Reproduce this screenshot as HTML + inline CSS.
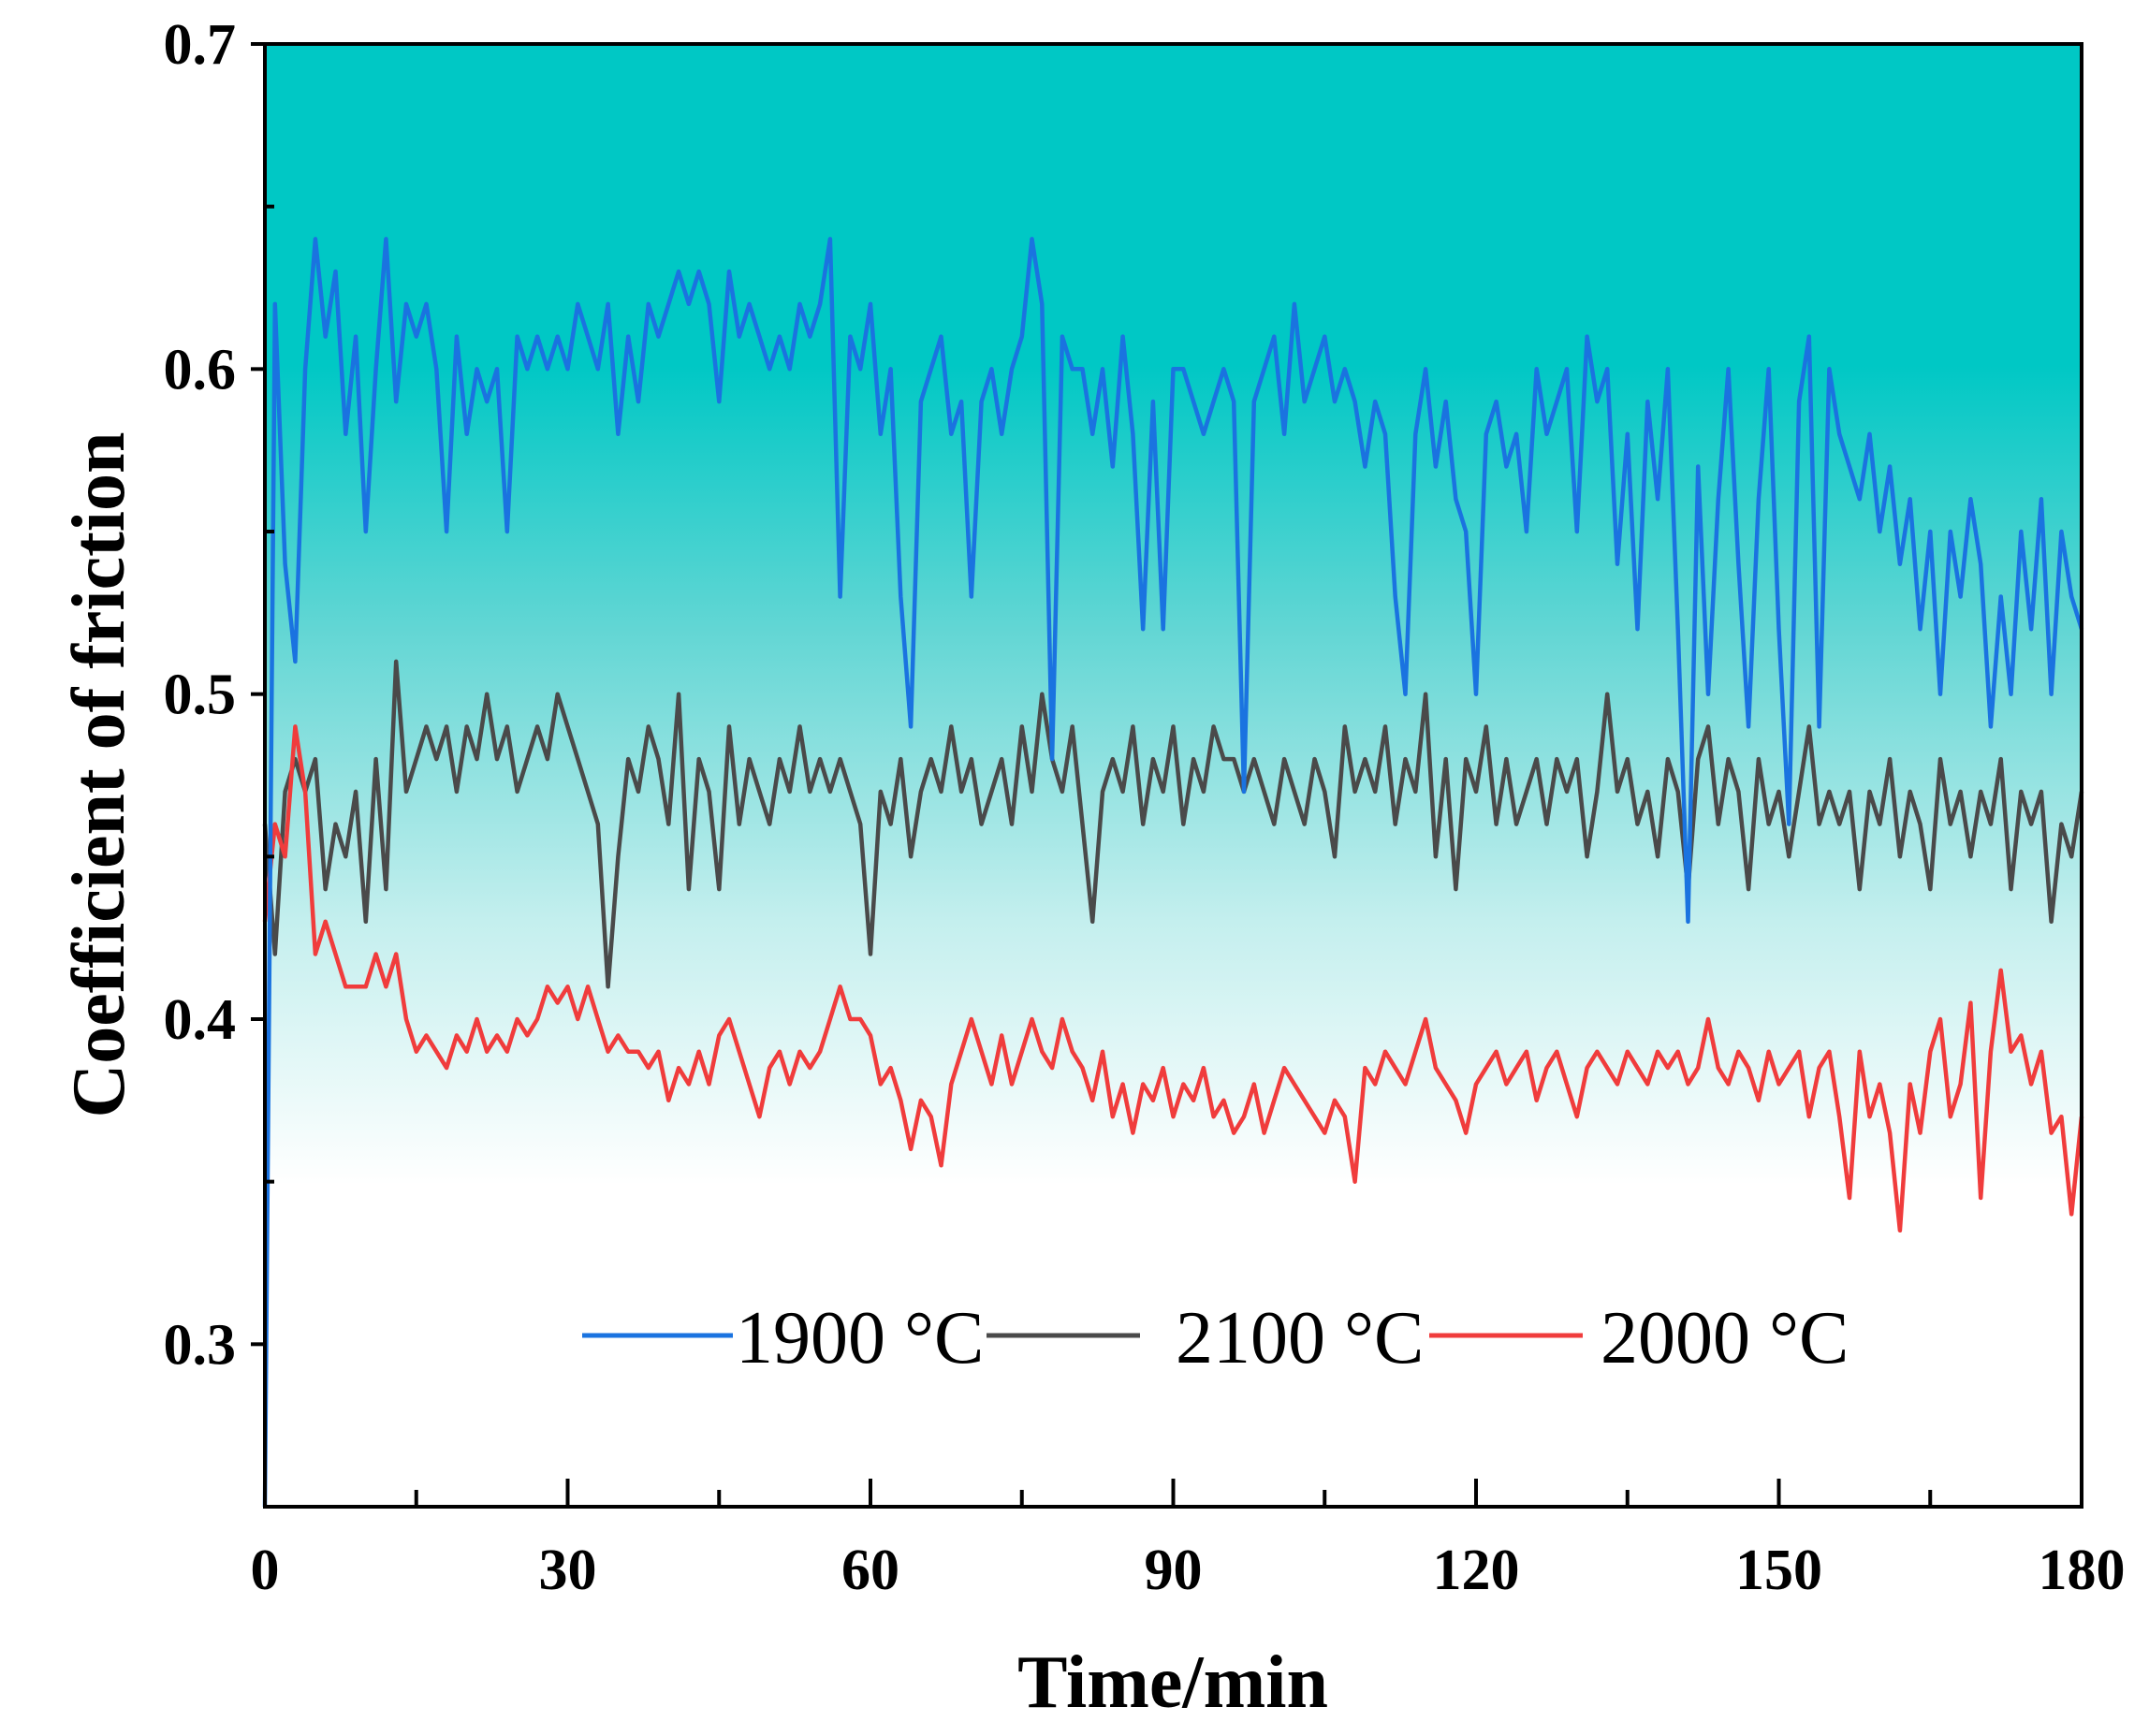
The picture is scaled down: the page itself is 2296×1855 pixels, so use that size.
<!DOCTYPE html>
<html><head><meta charset="utf-8"><style>
html,body{margin:0;padding:0;background:#fff}
svg{display:block}
</style></head><body>
<svg id="chart" width="2296" height="1855" viewBox="0 0 2296 1855" xmlns="http://www.w3.org/2000/svg" font-family="'Liberation Serif', serif">
<defs>
<linearGradient id="bg" x1="0" y1="0" x2="0" y2="1">
<stop offset="0" stop-color="#00c8c5"/>
<stop offset="0.22" stop-color="#00c8c5"/>
<stop offset="0.4" stop-color="#62d6d4"/>
<stop offset="0.6" stop-color="#c4efee"/>
<stop offset="0.78" stop-color="#ffffff"/>
<stop offset="1" stop-color="#ffffff"/>
</linearGradient>
</defs>
<rect x="283" y="47" width="1941" height="1563" fill="url(#bg)"/>
<g id="series"></g>
<g id="axes"></g>
<g font-size="80">
<line x1="622" y1="1427" x2="783" y2="1427" stroke="#1a73e0" stroke-width="5"/>
<text x="786" y="1456">1900 °C</text>
<line x1="1054" y1="1427" x2="1218" y2="1427" stroke="#4a4a4a" stroke-width="5"/>
<text x="1256" y="1456">2100 °C</text>
<line x1="1527" y1="1427" x2="1691" y2="1427" stroke="#f03c3c" stroke-width="5"/>
<text x="1710" y="1456">2000 °C</text>
</g>
<text x="1253" y="1824" font-size="80" font-weight="bold" text-anchor="middle">Time/min</text>
<text transform="translate(132,828) rotate(-90)" font-size="80" font-weight="bold" text-anchor="middle">Coefficient of friction</text>
</svg>
<script>
const xTicks=[0,30,60,90,120,150,180];
const yTicks=[0.3,0.4,0.5,0.6,0.7];
const blue=[0.25,0.62,0.54,0.51,0.60,0.64,0.61,0.63,0.58,0.61,0.55,0.60,0.64,0.59,0.62,0.61,0.62,0.60,0.55,0.61,0.58,0.60,0.59,0.60,0.55,0.61,0.60,0.61,0.60,0.61,0.60,0.62,0.61,0.60,0.62,0.58,0.61,0.59,0.62,0.61,0.62,0.63,0.62,0.63,0.62,0.59,0.63,0.61,0.62,0.61,0.60,0.61,0.60,0.62,0.61,0.62,0.64,0.53,0.61,0.60,0.62,0.58,0.60,0.53,0.49,0.59,0.60,0.61,0.58,0.59,0.53,0.59,0.60,0.58,0.60,0.61,0.64,0.62,0.48,0.61,0.60,0.60,0.58,0.60,0.57,0.61,0.58,0.52,0.59,0.52,0.60,0.60,0.59,0.58,0.59,0.60,0.59,0.47,0.59,0.60,0.61,0.58,0.62,0.59,0.60,0.61,0.59,0.60,0.59,0.57,0.59,0.58,0.53,0.50,0.58,0.60,0.57,0.59,0.56,0.55,0.50,0.58,0.59,0.57,0.58,0.55,0.60,0.58,0.59,0.60,0.55,0.61,0.59,0.60,0.54,0.58,0.52,0.59,0.56,0.60,0.52,0.43,0.57,0.50,0.56,0.60,0.54,0.49,0.56,0.60,0.52,0.46,0.59,0.61,0.49,0.60,0.58,0.57,0.56,0.58,0.55,0.57,0.54,0.56,0.52,0.55,0.50,0.55,0.53,0.56,0.54,0.49,0.53,0.50,0.55,0.52,0.56,0.50,0.55,0.53,0.52];
const gray=[0.46,0.42,0.47,0.48,0.47,0.48,0.44,0.46,0.45,0.47,0.43,0.48,0.44,0.51,0.47,0.48,0.49,0.48,0.49,0.47,0.49,0.48,0.50,0.48,0.49,0.47,0.48,0.49,0.48,0.50,0.49,0.48,0.47,0.46,0.41,0.45,0.48,0.47,0.49,0.48,0.46,0.50,0.44,0.48,0.47,0.44,0.49,0.46,0.48,0.47,0.46,0.48,0.47,0.49,0.47,0.48,0.47,0.48,0.47,0.46,0.42,0.47,0.46,0.48,0.45,0.47,0.48,0.47,0.49,0.47,0.48,0.46,0.47,0.48,0.46,0.49,0.47,0.50,0.48,0.47,0.49,0.46,0.43,0.47,0.48,0.47,0.49,0.46,0.48,0.47,0.49,0.46,0.48,0.47,0.49,0.48,0.48,0.47,0.48,0.47,0.46,0.48,0.47,0.46,0.48,0.47,0.45,0.49,0.47,0.48,0.47,0.49,0.46,0.48,0.47,0.50,0.45,0.48,0.44,0.48,0.47,0.49,0.46,0.48,0.46,0.47,0.48,0.46,0.48,0.47,0.48,0.45,0.47,0.50,0.47,0.48,0.46,0.47,0.45,0.48,0.47,0.44,0.48,0.49,0.46,0.48,0.47,0.44,0.48,0.46,0.47,0.45,0.47,0.49,0.46,0.47,0.46,0.47,0.44,0.47,0.46,0.48,0.45,0.47,0.46,0.44,0.48,0.46,0.47,0.45,0.47,0.46,0.48,0.44,0.47,0.46,0.47,0.43,0.46,0.45,0.47];
const red=[0.43,0.46,0.45,0.49,0.47,0.42,0.43,0.42,0.41,0.41,0.41,0.42,0.41,0.42,0.40,0.39,0.395,0.39,0.385,0.395,0.39,0.40,0.39,0.395,0.39,0.40,0.395,0.40,0.41,0.405,0.41,0.40,0.41,0.40,0.39,0.395,0.39,0.39,0.385,0.39,0.375,0.385,0.38,0.39,0.38,0.395,0.40,0.39,0.38,0.37,0.385,0.39,0.38,0.39,0.385,0.39,0.40,0.41,0.40,0.40,0.395,0.38,0.385,0.375,0.36,0.375,0.37,0.355,0.38,0.39,0.40,0.39,0.38,0.395,0.38,0.39,0.40,0.39,0.385,0.40,0.39,0.385,0.375,0.39,0.37,0.38,0.365,0.38,0.375,0.385,0.37,0.38,0.375,0.385,0.37,0.375,0.365,0.37,0.38,0.365,0.375,0.385,0.38,0.375,0.37,0.365,0.375,0.37,0.35,0.385,0.38,0.39,0.385,0.38,0.39,0.40,0.385,0.38,0.375,0.365,0.38,0.385,0.39,0.38,0.385,0.39,0.375,0.385,0.39,0.38,0.37,0.385,0.39,0.385,0.38,0.39,0.385,0.38,0.39,0.385,0.39,0.38,0.385,0.40,0.385,0.38,0.39,0.385,0.375,0.39,0.38,0.385,0.39,0.37,0.385,0.39,0.37,0.345,0.39,0.37,0.38,0.365,0.335,0.38,0.365,0.39,0.40,0.37,0.38,0.405,0.345,0.39,0.415,0.39,0.395,0.38,0.39,0.365,0.37,0.34,0.37];

const L=283,R=2224,T=47,B=1610,X0=0,X1=180,Y0=0.25,Y1=0.7;
const sx=v=>L+(v-X0)/(X1-X0)*(R-L);
const sy=v=>B-(v-Y0)/(Y1-Y0)*(B-T);
const NS='http://www.w3.org/2000/svg';
const sg=document.getElementById('series');
function draw(arr,color,name){
  const step=(X1-X0)/(arr.length-1);
  const d=arr.map((v,i)=>(i?'L':'M')+sx(X0+i*step).toFixed(1)+','+sy(v).toFixed(1)).join('');
  const p=document.createElementNS(NS,'path');
  p.setAttribute('d',d);p.setAttribute('fill','none');p.setAttribute('stroke',color);
  p.setAttribute('stroke-width','4.5');p.setAttribute('stroke-linejoin','round');
  
  
  sg.appendChild(p);
}
draw(gray,'#4a4a4a','line-2100c');
draw(red,'#f03c3c','line-2000c');
draw(blue,'#1a73e0','line-1900c');

const ax=document.getElementById('axes');
const fr=document.createElementNS(NS,'rect');
fr.setAttribute('x',L);fr.setAttribute('y',T);fr.setAttribute('width',R-L);fr.setAttribute('height',B-T);
fr.setAttribute('fill','none');fr.setAttribute('stroke','#000');fr.setAttribute('stroke-width','4');


ax.appendChild(fr);
function line(x1,y1,x2,y2,w){const l=document.createElementNS(NS,'line');l.setAttribute('x1',x1);l.setAttribute('y1',y1);l.setAttribute('x2',x2);l.setAttribute('y2',y2);l.setAttribute('stroke','#000');l.setAttribute('stroke-width',w);ax.appendChild(l);return l;}
xTicks.forEach((v,i)=>{
  const t=line(sx(v),B,sx(v),B-30,4);
  
  
  if(i<xTicks.length-1){const m=line(sx(v+15),B,sx(v+15),B-18,4);
    
    }
  const tx=document.createElementNS(NS,'text');
  tx.setAttribute('x',sx(v));tx.setAttribute('y',1698);tx.setAttribute('text-anchor','middle');
  tx.setAttribute('font-size','62');tx.setAttribute('font-weight','bold');tx.textContent=v;
  
  
  ax.appendChild(tx);
});
yTicks.forEach(v=>{
  const t=line(L-15,sy(v),L,sy(v),4);
  
  
  if(v<0.7){const m=line(L,sy(v+0.05),L+10,sy(v+0.05),4);
    
    }
  const tx=document.createElementNS(NS,'text');
  tx.setAttribute('x',252);tx.setAttribute('y',sy(v)+21);tx.setAttribute('text-anchor','end');
  tx.setAttribute('font-size','62');tx.setAttribute('font-weight','bold');tx.textContent=v.toFixed(1);
  
  
  ax.appendChild(tx);
});
</script>
</body></html>
